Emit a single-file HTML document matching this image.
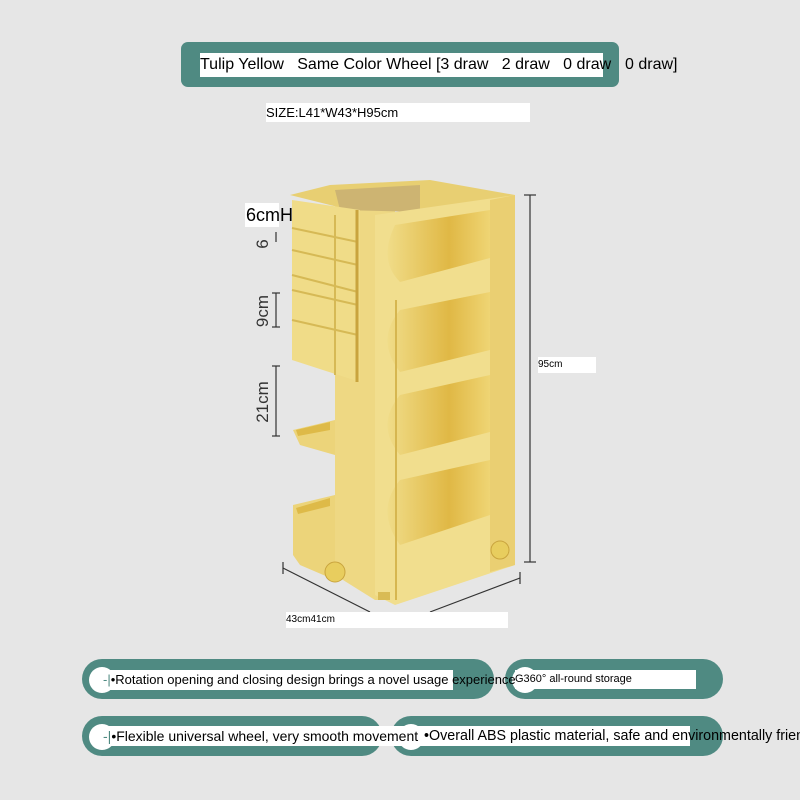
<!DOCTYPE html>
<html><head><meta charset="utf-8"><style>
html,body{margin:0;padding:0;background:#e6e6e6;}
body{width:800px;height:800px;position:relative;overflow:hidden;font-family:"Liberation Sans",sans-serif;}
.abs{position:absolute;}
.wb{background:#fff;color:#000;white-space:nowrap;}
.pill{position:absolute;background:#4f8a82;border-radius:22px;}
.dot{position:absolute;width:26px;height:26px;border-radius:50%;background:#fff;}
</style></head><body>
<div class="abs" style="left:181px;top:42px;width:438px;height:45px;background:#4f8a82;border-radius:7px;"></div>
<div class="abs wb" style="left:200px;top:53px;width:403px;height:24px;font-size:16px;line-height:24px;">Tulip Yellow&nbsp;&nbsp; Same Color Wheel [3 draw&nbsp;&nbsp; 2 draw&nbsp;&nbsp; 0 draw&nbsp;&nbsp;</div>
<div class="abs" style="left:625px;top:53px;font-size:16px;line-height:24px;">0 draw]</div>
<div class="abs wb" style="left:266px;top:103px;width:264px;height:19px;font-size:13px;line-height:19px;">SIZE:L41*W43*H95cm</div>

<svg class="abs" style="left:0;top:0" width="800" height="800">
<defs>
<linearGradient id="op" x1="0" y1="0" x2="1" y2="0"><stop offset="0" stop-color="#f0dc88"/><stop offset="0.6" stop-color="#e0b845"/><stop offset="1" stop-color="#efd574"/></linearGradient>
</defs>
<polygon points="293,430 335,420 335,455 300,445" fill="#ecd47a"/>
<polygon points="296,430 330,422 330,430 298,436" fill="#deba48"/>
<polygon points="293,505 335,495 335,580 300,565 293,555" fill="#ecd47a"/>
<polygon points="296,508 330,498 330,506 298,514" fill="#deba48"/>
<polygon points="335,200 395,200 395,600 375,600 335,575" fill="#eed883"/>
<polygon points="290,195 330,185 430,180 515,195 470,210 350,210" fill="#e8cf72"/>
<polygon points="335,190 420,185 420,212 340,210" fill="#cdb472"/>
<polygon points="292,200 360,210 360,382 292,360" fill="#f0dc88"/>
<g stroke="#d6b955" stroke-width="2">
<line x1="292" y1="228" x2="358" y2="242"/><line x1="292" y1="250" x2="358" y2="265"/>
<line x1="292" y1="275" x2="358" y2="292"/><line x1="292" y1="290" x2="358" y2="305"/>
<line x1="292" y1="320" x2="358" y2="335"/>
<line x1="335" y1="215" x2="335" y2="375"/>
</g>
<line x1="357" y1="210" x2="357" y2="382" stroke="#c9a43e" stroke-width="3"/>
<polygon points="375,215 515,195 515,565 395,605 375,595" fill="#f1de8e"/>
<polygon points="490,200 515,195 515,565 490,572" fill="#eacf72"/>
<g fill="url(#op)">
<path d="M395,225 L490,210 L490,258 L400,282 Q378,260 395,225Z"/>
<path d="M400,310 L490,292 L490,350 L400,372 Q375,340 400,310Z"/>
<path d="M400,395 L490,375 L490,432 L400,455 Q375,425 400,395Z"/>
<path d="M400,480 L490,460 L490,515 L400,545 Q375,510 400,480Z"/>
</g>
<line x1="396" y1="300" x2="396" y2="600" stroke="#d6b650" stroke-width="2"/>
<circle cx="335" cy="572" r="10" fill="#e8cd5e" stroke="#c9a43e"/>
<circle cx="500" cy="550" r="9" fill="#e8cd5e" stroke="#c9a43e"/>
<rect x="378" y="592" width="12" height="8" fill="#d9bb55"/>
<g stroke="#333" stroke-width="1.2" fill="none">
<line x1="530" y1="195" x2="530" y2="562"/><line x1="524" y1="195" x2="536" y2="195"/><line x1="524" y1="562" x2="536" y2="562"/>
<line x1="283" y1="568" x2="370" y2="612"/><line x1="283" y1="562" x2="283" y2="574"/>
<line x1="430" y1="612" x2="520" y2="578"/><line x1="520" y1="572" x2="520" y2="584"/>
<line x1="276" y1="232" x2="276" y2="242"/>
<line x1="276" y1="293" x2="276" y2="327"/><line x1="272" y1="293" x2="280" y2="293"/><line x1="272" y1="327" x2="280" y2="327"/>
<line x1="276" y1="366" x2="276" y2="436"/><line x1="272" y1="366" x2="280" y2="366"/><line x1="272" y1="436" x2="280" y2="436"/>
</g>
<text x="268" y="244" font-size="17" font-family="Liberation Sans" transform="rotate(-90 268 244)" text-anchor="middle" fill="#333">6</text>
<text x="268" y="311" font-size="17" font-family="Liberation Sans" transform="rotate(-90 268 311)" text-anchor="middle" fill="#333">9cm</text>
<text x="268" y="402" font-size="17" font-family="Liberation Sans" transform="rotate(-90 268 402)" text-anchor="middle" fill="#333">21cm</text>
</svg>
<div class="abs" style="left:245px;top:203px;font-size:18px;line-height:24px;background:#fff;width:34px;height:24px;"></div>
<div class="abs" style="left:246px;top:203px;font-size:18px;line-height:24px;">6cmH</div>
<div class="abs wb" style="left:538px;top:357px;width:58px;height:16px;font-size:10px;line-height:16px;">95cm</div>
<div class="abs wb" style="left:286px;top:612px;width:222px;height:16px;font-size:10px;line-height:16px;">43cm41cm</div>

<div class="pill" style="left:82px;top:659px;width:412px;height:40px;"></div>
<div class="pill" style="left:505px;top:659px;width:218px;height:40px;"></div>
<div class="pill" style="left:82px;top:716px;width:300px;height:40px;"></div>
<div class="pill" style="left:391px;top:716px;width:332px;height:40px;"></div>
<div class="dot" style="left:89px;top:667px;"></div>
<div class="dot" style="left:512px;top:667px;"></div>
<div class="dot" style="left:89px;top:724px;"></div>
<div class="dot" style="left:398px;top:724px;"></div>
<div class="abs wb" style="left:103px;top:670px;width:350px;height:20px;font-size:13px;line-height:20px;background:#fff;"><span style="color:#4f8a82">-|</span>•Rotation opening and closing design brings a novel usage experience</div>
<div class="abs wb" style="left:515px;top:670px;width:181px;height:19px;font-size:11px;line-height:19px;">G360° all-round storage</div>
<div class="abs wb" style="left:103px;top:726px;width:330px;height:20px;font-size:14px;line-height:20px;"><span style="color:#4f8a82">-|</span>•Flexible universal wheel, very smooth movement</div>
<div class="abs wb" style="left:424px;top:726px;width:266px;height:20px;font-size:14.3px;line-height:20px;overflow:visible;">•Overall ABS plastic material, safe and environmentally frien</div>
</body></html>
